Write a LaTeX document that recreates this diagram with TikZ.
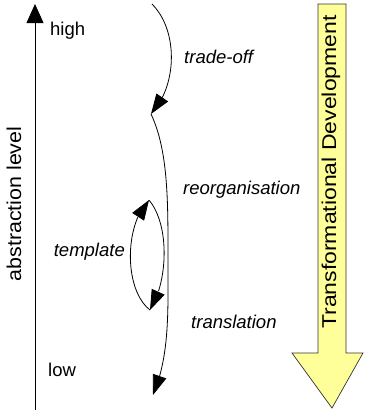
\documentclass[tikz,border=0pt]{standalone}
\usepackage{fontspec}
\setmainfont{Liberation Sans}
\usetikzlibrary{arrows.meta,bending}
\definecolor{devyellow}{RGB}{255,255,153}
\begin{document}
\begin{tikzpicture}[x=1pt,y=-1pt,
  lbl/.style={font=\fontsize{18.5}{22}\selectfont, inner sep=0pt},
  ilbl/.style={lbl, font=\fontsize{18.5}{22}\selectfont\itshape},
  vlbl/.style={font=\fontsize{20}{24}\selectfont, inner sep=0pt},
  flow/.style={line width=0.8pt, -{Triangle[length=20pt,width=14pt]}},
  devarrow/.style={draw=black!80, line width=0.7pt, fill=devyellow}
]
\useasboundingbox (0,0) rectangle (366,410);

% abstraction axis
\coordinate (axbot) at (35,410);
\coordinate (axtop) at (35,4);
\draw[line width=0.8pt, -{Triangle[length=19pt,width=17pt]}] (axbot) -- (axtop);
\node[lbl, anchor=west] (high) at (50,31) {high};
\node[lbl, anchor=west] (low) at (48,370) {low};
\node[vlbl, rotate=90, xscale=1.07] (abst) at (14,204) {abstraction level};

% transformation steps
\coordinate (s0) at (152,4);
\coordinate (s1) at (151,114);
\coordinate (mid) at (168,255);
\coordinate (s2) at (153,395);
\coordinate (tt) at (149,200);
\coordinate (tb) at (150,310);

\draw[flow] (s0) .. controls (178,30) and (178,85) .. (s1);
\draw[line width=0.8pt] (s1) .. controls (168,150) and (168,200) .. (mid);
\draw[flow] (mid) .. controls (168,310) and (170,355) .. (s2);
\draw[flow] (tb) .. controls (124,290) and (124,225) .. (tt);
\draw[flow] (tt) .. controls (170,225) and (168,282) .. (tb);

\node[ilbl, anchor=west] (tradeoff) at (184,57) {trade-off};
\node[ilbl, anchor=west] (reorg) at (183,190) {reorganisation};
\node[ilbl, anchor=east] (templ) at (125,252) {template};
\node[ilbl, anchor=west] (transl) at (191,322) {translation};

% transformational development arrow
\draw[devarrow] (318,4) -- (346,4) -- (346,353) -- (363,353) -- (332,408)
  -- (292,353) -- (318,353) -- cycle;
\node[vlbl, rotate=90, xscale=1.15] (tdev) at (331,172) {Transformational Development};
\end{tikzpicture}
\end{document}
